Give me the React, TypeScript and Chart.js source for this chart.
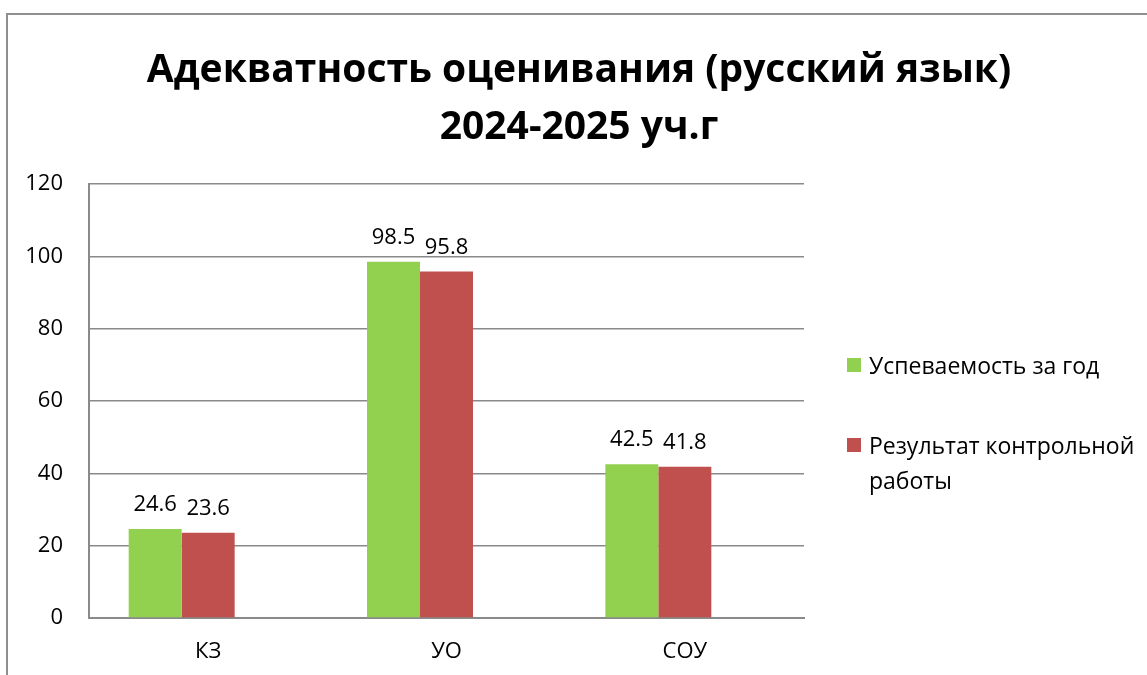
import React, { useEffect, useRef } from "react";
import { Chart, registerables } from "chart.js";

Chart.register(...registerables);

const categories = ["КЗ", "УО", "СОУ"];
const seriesNames = ["Успеваемость за год", "Результат контрольной работы"];
const yearProgress = [24.6, 98.5, 42.5];
const testResult = [23.6, 95.8, 41.8];
const emptySeries: (number | null)[] = [null, null, null];
const yMin = 0;
const yMax = 120;
const yStep = 20;
const titleLines = ["Адекватность оценивания (русский язык)", "2024-2025 уч.г"];
const colors = ["#92D050", "#C0504D"];

const FONT = "'Open Sans', 'DejaVu Sans', sans-serif";

const valueLabels = {
  id: "valueLabels",
  afterDatasetsDraw(chart: any) {
    const ctx = chart.ctx;
    ctx.save();
    ctx.font = `22px ${FONT}`;
    ctx.fillStyle = "#000";
    ctx.textAlign = "center";
    ctx.textBaseline = "alphabetic";
    [0, 1].forEach((di) => {
      const meta = chart.getDatasetMeta(di);
      meta.data.forEach((bar: any, i: number) => {
        const v = chart.data.datasets[di].data[i];
        if (v == null) return;
        ctx.fillText(String(v), bar.x, bar.y - 18);
      });
    });
    ctx.restore();
  },
};

export default function App() {
  const ref = useRef<HTMLCanvasElement>(null);
  useEffect(() => {
    const chart = new Chart(ref.current!, {
      type: "bar",
      data: {
        labels: categories,
        datasets: [
          { label: seriesNames[0], data: yearProgress, backgroundColor: colors[0], borderWidth: 0 },
          { label: seriesNames[1], data: testResult, backgroundColor: colors[1], borderWidth: 0 },
          { label: "", data: emptySeries, backgroundColor: "rgba(0,0,0,0)", borderWidth: 0 },
        ],
      },
      options: {
        animation: false,
        responsive: false,
        devicePixelRatio: 1,
        layout: { padding: { left: 0, right: 343, top: 184, bottom: 0 } },
        datasets: { bar: { categoryPercentage: 0.667, barPercentage: 1 } },
        plugins: {
          legend: { display: false },
          title: { display: false },
          tooltip: { enabled: false },
        },
        scales: {
          x: {
            grid: { display: false, drawTicks: false },
            border: { display: true, color: "#8a8a8a", width: 2 },
            ticks: { color: "#000", font: { family: FONT, size: 22 }, padding: 21 },
            afterFit(scale: any) {
              scale.height = 57;
            },
          },
          y: {
            min: yMin,
            max: yMax,
            grid: { color: "#8a8a8a", lineWidth: 1.5, drawTicks: false },
            border: { display: true, color: "#8a8a8a", width: 2 },
            ticks: { stepSize: yStep, color: "#000", font: { family: FONT, size: 22 }, padding: 26 },
            afterFit(scale: any) {
              scale.width = 89;
            },
          },
        },
      },
      plugins: [valueLabels],
    });
    return () => chart.destroy();
  }, []);

  const legendText: React.CSSProperties = {
    position: "absolute",
    font: `23px ${FONT}`,
    color: "#000",
    lineHeight: "35px",
    whiteSpace: "nowrap",
  };

  return (
    <div style={{ position: "fixed", left: 0, top: 0, width: 1147, height: 675, overflow: "hidden", background: "#fff" }}>
      <div style={{ position: "absolute", left: 6, top: 13, width: 1300, height: 800, border: "2px solid #8f8f8f", boxSizing: "border-box" }} />
      <canvas ref={ref} width={1147} height={675} style={{ position: "absolute", left: 0, top: 0 }} />
      {titleLines.map((t, i) => (
        <div
          key={i}
          style={{
            position: "absolute",
            left: 0,
            width: 1158,
            top: 38 + i * 57,
            textAlign: "center",
            font: `bold 39px ${FONT}`,
            lineHeight: "57px",
            color: "#000",
            whiteSpace: "nowrap",
          }}
        >
          {t}
        </div>
      ))}
      <div style={{ position: "absolute", left: 847, top: 358, width: 14, height: 14, background: colors[0] }} />
      <div style={{ ...legendText, left: 869, top: 348 }}>{seriesNames[0]}</div>
      <div style={{ position: "absolute", left: 847, top: 438, width: 14, height: 14, background: colors[1] }} />
      <div style={{ ...legendText, left: 869, top: 428 }}>
        Результат контрольной
        <br />
        работы
      </div>
    </div>
  );
}
